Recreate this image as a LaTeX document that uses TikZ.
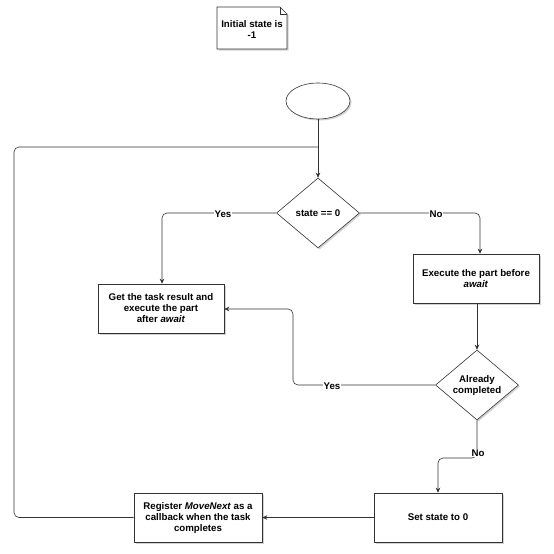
\documentclass[tikz,border=0pt]{standalone}
\usepackage{fontspec}
\setmainfont{Liberation Sans}
\usetikzlibrary{shapes.geometric,arrows.meta,shadows,calc}
\tikzset{
  base/.style={font=\fontsize{9.7}{11}\selectfont\bfseries, align=center, inner sep=0pt},
  shad/.style={drop shadow={shadow xshift=1.5pt, shadow yshift=-1.5pt, fill=black!35, opacity=.5}},
  procbox/.style={base, draw=black!80, line width=0.6pt, fill=white, shad, minimum width=126pt, minimum height=49pt},
  decision/.style={base, diamond, draw=black!80, line width=0.6pt, fill=white, shad, minimum width=83pt, minimum height=70pt},
  conn/.style={draw=black!80, line width=0.6pt, rounded corners=5pt},
  arr/.style={conn, -{Stealth[length=5pt,width=4.5pt]}},
  lbl/.style={base, fill=white, inner sep=1pt}
}
\begin{document}
\begin{tikzpicture}[x=1pt,y=-1pt]
\useasboundingbox (0,0) rectangle (554,554);
% note
\fill[black!35, opacity=.5] (218.5,8.5) -- (281.5,8.5) -- (288.5,15.5) -- (288.5,50.5) -- (218.5,50.5) -- cycle;
\draw[black!80, line width=0.6pt, fill=white] (217,7) -- (280,7) -- (287,14) -- (287,49) -- (217,49) -- cycle;
\draw[black!80, line width=0.6pt] (280,7) -- (280,14) -- (287,14);
\node[base] (init) at (252,29) {Initial state is\\-1};
% start
\node[ellipse, draw=black!80, line width=0.6pt, fill=white, shad, minimum width=64pt, minimum height=36pt, inner sep=0pt] (start) at (318,101) {};
\node[decision] (d1) at (318,213) {state == 0};
\node[procbox] (get) at (161,308.5) {Get the task result and\\execute the part\\after \textit{await}};
\node[procbox] (exec) at (476,278.5) {Execute the part before\\\textit{await}};
\node[decision] (d2) at (477,385) {Already\\completed};
\node[procbox, minimum width=128pt] (set) at (438,517.5) {Set state to 0};
\node[procbox, minimum width=128pt] (reg) at (198,517.5) {Register \textit{MoveNext} as a\\callback when the task\\completes};
\coordinate (join) at (318,147);
% connectors
\draw[arr] (start.south) -- (d1.north);
\draw[arr] (d1.west) -- (162,213) -- (get.north -| 162,0);
\draw[arr] (d1.east) -- (480,213) -- (exec.north -| 480,0);
\draw[arr] (exec.south -| d2.north) -- (d2.north);
\draw[arr] (d2.west) -- (293,385) -- (293,309) -- (get.east |- 0,309);
\draw[arr] (d2.south) -- (477,458) -- (438,458) -- (set.north);
\draw[arr] (set.west) -- (reg.east);
\draw[conn] (reg.west) -- (14,517.5) -- (14,147) -- (join);
% labels
\node[lbl] (yes1) at (223,214) {Yes};
\node[lbl] (no1) at (436,214) {No};
\node[lbl] (yes2) at (332,386) {Yes};
\node[lbl] (no2) at (478,453) {No};
\end{tikzpicture}
\end{document}
